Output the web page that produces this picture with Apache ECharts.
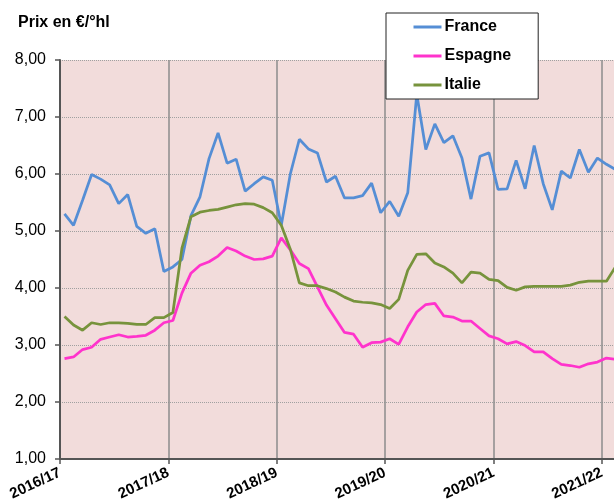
<!DOCTYPE html>
<html><head><meta charset="utf-8">
<script src="https://cdn.jsdelivr.net/npm/echarts@6/dist/echarts.min.js"></script>
<style>html,body{margin:0;padding:0;background:#fff}#c{width:614px;height:504px}</style>
</head><body><div id="c"></div>
<script>
var seasons = ['2016/17','2017/18','2018/19','2019/20','2020/21','2021/22'];
var monthNames = ['août','sept','oct','nov','déc','janv','févr','mars','avr','mai','juin','juil'];
var yTicks = [1,2,3,4,5,6,7,8];
var france = [5.30,5.10,5.54,5.99,5.91,5.81,5.48,5.64,5.08,4.96,5.04,4.29,
  4.37,4.50,5.27,5.60,6.27,6.72,6.19,6.26,5.70,5.83,5.95,5.89,
  5.10,6.00,6.61,6.44,6.37,5.86,5.96,5.58,5.58,5.62,5.84,5.32,
  5.52,5.26,5.67,7.40,6.43,6.88,6.55,6.67,6.28,5.56,6.31,6.37,
  5.73,5.74,6.24,5.74,6.50,5.83,5.37,6.05,5.93,6.43,6.03,6.28,
  6.17,6.08];
var espagne = [2.76,2.79,2.92,2.96,3.10,3.14,3.18,3.14,3.15,3.17,3.26,3.39,
  3.43,3.91,4.26,4.40,4.46,4.56,4.71,4.65,4.56,4.50,4.51,4.56,
  4.88,4.67,4.43,4.34,4.02,3.70,3.46,3.22,3.19,2.96,3.04,3.05,
  3.11,3.01,3.32,3.58,3.71,3.73,3.51,3.49,3.42,3.42,3.29,3.16,
  3.11,3.02,3.06,2.99,2.88,2.88,2.76,2.66,2.64,2.61,2.67,2.70,
  2.77,2.75];
var italie = [3.50,3.35,3.26,3.39,3.36,3.39,3.39,3.38,3.36,3.36,3.48,3.48,
  3.57,4.70,5.25,5.33,5.36,5.38,5.42,5.46,5.48,5.47,5.41,5.32,
  5.10,4.68,4.09,4.04,4.04,3.99,3.93,3.84,3.77,3.75,3.74,3.71,
  3.64,3.80,4.31,4.59,4.60,4.44,4.37,4.26,4.09,4.28,4.26,4.15,
  4.13,4.01,3.96,4.02,4.03,4.03,4.03,4.03,4.05,4.10,4.12,4.12,
  4.12,4.37];

var categories = [];
for (var i = 0; i < france.length; i++) {
  categories.push(seasons[Math.floor(i / 12)] + ' ' + monthNames[i % 12]);
}
var FONT = '"Liberation Sans", Arial, sans-serif';
var chart = echarts.init(document.getElementById('c'), null, {renderer: 'canvas'});
chart.setOption({
  animation: false,
  backgroundColor: '#ffffff',
  title: {
    text: 'Prix en €/°hl', left: 18, top: 15, padding: 0,
    textStyle: {fontFamily: FONT, fontSize: 16, fontWeight: 'bold', color: '#000'}
  },
  legend: {
    orient: 'vertical', left: 386, top: 13,
    padding: [6, 27, 6, 26], itemGap: 13, itemWidth: 28, itemHeight: 15,
    backgroundColor: '#ffffff', borderColor: '#222', borderWidth: 1,
    itemStyle: {color: 'rgba(0,0,0,0)', borderWidth: 0, opacity: 0},
    lineStyle: {width: 3},
    textStyle: {fontFamily: FONT, fontSize: 16, fontWeight: 'bold', color: '#000', padding: [0, 0, 0, -2]},
    data: ['France', 'Espagne', 'Italie'], z: 10
  },
  grid: {left: 60, top: 60, width: 560, bottom: 45, show: true, backgroundColor: '#F2DCDB', borderWidth: 0,
    containLabel: false, outerBoundsMode: 'none'},
  xAxis: [{
    type: 'category', data: categories, boundaryGap: true, show: false, position: 'bottom'
  }, {
    type: 'value', min: 0, max: categories.length, interval: 12, position: 'bottom',
    axisLine: {show: true, onZero: false, lineStyle: {color: '#555', width: 2}},
    axisTick: {show: true, length: 5, lineStyle: {color: '#555', width: 1.5}},
    axisLabel: {
      rotate: 25, margin: 13, fontFamily: FONT, fontSize: 15, fontWeight: 'bold', color: '#000',
      formatter: function (v) { return v % 12 === 0 ? (seasons[v / 12] || '') : ''; }
    },
    splitLine: {show: true, lineStyle: {color: '#8c8c8c', width: 1.5, type: 'solid'}}
  }],
  yAxis: {
    type: 'value', min: yTicks[0], max: yTicks[yTicks.length - 1], interval: 1,
    axisLine: {show: true, lineStyle: {color: '#555', width: 2}},
    axisTick: {show: true, length: 5, lineStyle: {color: '#555', width: 1.5}},
    axisLabel: {margin: 14, fontFamily: FONT, fontSize: 16, color: '#000',
      formatter: function (v) { return v.toFixed(2).replace('.', ','); }},
    splitLine: {show: true, lineStyle: {color: '#a0a0a0', width: 1, type: [1, 1]}}
  },
  series: [
    {name: 'France', type: 'line', data: france, xAxisIndex: 0, symbol: 'none', smooth: false,
      lineStyle: {color: '#558ED5', width: 2.75}, itemStyle: {color: '#558ED5'}, z: 3},
    {name: 'Espagne', type: 'line', data: espagne, xAxisIndex: 0, symbol: 'none', smooth: false,
      lineStyle: {color: '#FF33CC', width: 2.75}, itemStyle: {color: '#FF33CC'}, z: 3},
    {name: 'Italie', type: 'line', data: italie, xAxisIndex: 0, symbol: 'none', smooth: false,
      lineStyle: {color: '#77933C', width: 2.75}, itemStyle: {color: '#77933C'}, z: 3}
  ]
});
</script></body></html>
